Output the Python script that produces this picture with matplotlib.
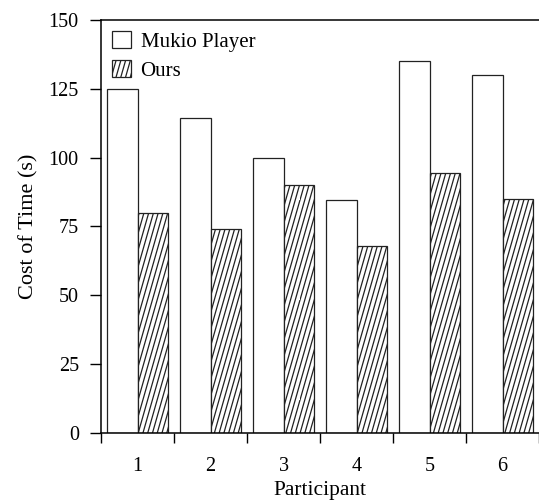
import numpy as np
import matplotlib
matplotlib.use("Agg")
import matplotlib.pyplot as plt
import matplotlib.hatch as mhatch
from matplotlib.path import Path

# ---- data ----
participants = ["1", "2", "3", "4", "5", "6"]
mukio_player = [125, 114.5, 100, 84.5, 135, 130]
ours = [80, 74, 90, 68, 94.5, 85]
y_ticks = [0, 25, 50, 75, 100, 125, 150]
series_labels = ["Mukio Player", "Ours"]


# ---- steep hatch pattern replacing the default '/' hatch ----
class SteepHatch(mhatch.HatchPatternBase):
    N = 21
    SHIFT = 6

    def __init__(self, hatch, density):
        n = hatch.count('/')
        self.active = n > 0
        self.starts = np.arange(-self.SHIFT, self.N) if self.active else np.array([])
        self.num_vertices = len(self.starts) * 2

    def set_vertices_and_codes(self, vertices, codes):
        x0 = self.starts / self.N
        x1 = (self.starts + self.SHIFT) / self.N
        vertices[0::2, 0] = x0
        vertices[0::2, 1] = 0.0
        vertices[1::2, 0] = x1
        vertices[1::2, 1] = 1.0
        codes[0::2] = Path.MOVETO
        codes[1::2] = Path.LINETO


mhatch._hatch_types = [t for t in mhatch._hatch_types
                       if t is not mhatch.NorthEastHatch] + [SteepHatch]

plt.rcParams['font.family'] = ['Liberation Serif', 'DejaVu Serif']
plt.rcParams['hatch.linewidth'] = 0.9
plt.rcParams['hatch.color'] = 'black'

fig = plt.figure(figsize=(5.39, 5.04), dpi=100)
ax = fig.add_axes([0.1874, 0.1409, 0.8126, 0.8194])

x = np.arange(1, len(participants) + 1)
w = 0.42
ax.bar(x - w / 2, mukio_player, width=w, facecolor='white', edgecolor='#222222',
       linewidth=0.9, label=series_labels[0], zorder=2)
ax.bar(x + w / 2, ours, width=w, facecolor='white', edgecolor='#222222',
       linewidth=0.9, hatch='/', label=series_labels[1], zorder=2)

ax.set_xlim(0.5, len(participants) + 0.5)
ax.set_ylim(0, 150)
ax.set_yticks(y_ticks)
ax.set_yticklabels([str(v) for v in y_ticks])
ax.set_xticks(x)
ax.set_xticklabels(participants)
ax.set_xticks(np.arange(0.5, len(participants) + 1.0, 1.0), minor=True)

ax.tick_params(axis='y', which='major', direction='out', length=8, width=1.0,
               labelsize=14.5, pad=8)
ax.tick_params(axis='x', which='major', length=0, labelsize=14.5, pad=17)
ax.tick_params(axis='x', which='minor', direction='out', length=7.5, width=1.0)

for s in ['left', 'bottom', 'top']:
    ax.spines[s].set_linewidth(1.1)
    ax.spines[s].set_color('black')
ax.spines['right'].set_visible(False)

ax.set_ylabel("Cost of Time (s)", fontsize=16, labelpad=7)
ax.set_xlabel("Participant", fontsize=15.5, labelpad=4)

leg = ax.legend(loc='upper left', bbox_to_anchor=(0.0, 1.0), frameon=False,
                prop={'size': 15}, handlelength=0.9, handleheight=0.85,
                handletextpad=0.45, labelspacing=0.4, borderaxespad=0.15,
                borderpad=0.4)

fig.savefig("out.png", dpi=100)
